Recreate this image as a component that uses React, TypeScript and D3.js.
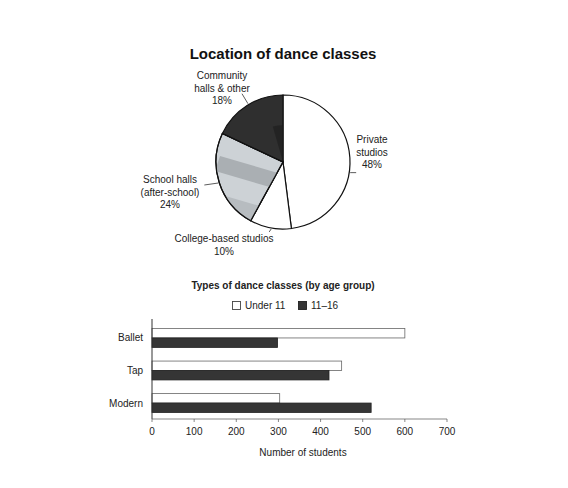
import * as d3 from "d3";
import React from "react";

// pie data
const locations = ["Private studios", "College-based studios", "School halls (after-school)", "Community halls & other"];
const locationShares = [48, 10, 24, 18];

// bar data
const danceTypes = ["Ballet", "Tap", "Modern"];
const ageGroups = ["Under 11", "11–16"];
const under11 = [600, 450, 303];
const age11to16 = [298, 420, 520];
const xTicks = [0, 100, 200, 300, 400, 500, 600, 700];

const FONT = "'Liberation Sans', Arial, sans-serif";
const INK = "#222";

const sliceFill = ["#ffffff", "#ffffff", "#cdd2d6", "#2f2f2f"];

// label layout for pie: leader start angle (deg, clockwise from 12), leader end offset, text position
const pieLabels = [
  { lines: ["Private", "studios", "48%"], angle: 99, lead: [6, 0], tx: 372, ty: 143 },
  { lines: ["College-based studios", "10%"], angle: 190, lead: [-2, 3], tx: 224, ty: 242 },
  { lines: ["School halls", "(after-school)", "24%"], angle: 252, lead: [-14, 2], tx: 170, ty: 183 },
  { lines: ["Community", "halls & other", "18%"], angle: 329, lead: [-6, -10], tx: 222, ty: 79 },
];

export default function App() {
  const cx = 283, cy = 162, r = 67;

  const pie = d3.pie<number>().sort(null).value(d => d);
  const arcs = pie(locationShares);
  const arc = d3.arc<d3.PieArcDatum<number>>().innerRadius(0).outerRadius(r);

  const x = d3.scaleLinear().domain([0, 700]).range([152, 447]);
  const y = d3.scaleBand<string>().domain(danceTypes).range([322, 419]).paddingInner(0.42).paddingOuter(0.2);
  const yInner = d3.scaleBand<string>().domain(ageGroups).range([0, y.bandwidth()]);
  const series = [under11, age11to16];
  const barFill = ["#ffffff", "#353535"];
  const barStroke = ["#666", "#222"];

  const schoolArc = arcs[2];

  return (
    <svg width={568} height={488} style={{ position: "absolute", left: 0, top: 0, background: "#fff" }} fontFamily={FONT}>
      <defs>
        <clipPath id="schoolClip">
          <path d={arc(schoolArc) || ""} transform={`translate(${cx},${cy})`} />
        </clipPath>
      </defs>

      {/* pie title */}
      <text x={283} y={59} textAnchor="middle" fontSize={15} fontWeight="bold" fill="#111">Location of dance classes</text>

      <g transform={`translate(${cx},${cy})`}>
        {arcs.map((a, i) => (
          <path key={locations[i]} d={arc(a) || ""} fill={sliceFill[i]} stroke="#111" strokeWidth={1.2} />
        ))}
      </g>
      {/* scan shading in school halls slice */}
      <g clipPath="url(#schoolClip)">
        <polygon points="220,156 285,175 280,190 215,171" fill="#aaafb3" />
        <polygon points="212,192 280,212 272,240 204,220" fill="#b7bcc0" />
      </g>
      <g transform={`translate(${cx},${cy})`}>
        <path d={arc(schoolArc) || ""} fill="none" stroke="#111" strokeWidth={1.2} />
        <path d={d3.arc<d3.PieArcDatum<number>>().innerRadius(0).outerRadius(r * 0.55)({ ...arcs[3], startAngle: arcs[3].startAngle + 0.85 }) || ""} fill="#1c1c1c" opacity={0.6} />
      </g>

      {pieLabels.map(l => {
        const t = (l.angle * Math.PI) / 180;
        const sx = cx + Math.sin(t) * (r + 1);
        const sy = cy - Math.cos(t) * (r + 1);
        return (
          <g key={l.lines[0]}>
            <line x1={sx} y1={sy} x2={sx + l.lead[0]} y2={sy + l.lead[1]} stroke="#333" strokeWidth={0.8} />
            {l.lines.map((s, j) => (
              <text key={s} x={l.tx} y={l.ty + j * 12.7} textAnchor="middle" fontSize={10} fill={INK}>{s}</text>
            ))}
          </g>
        );
      })}

      {/* bar chart */}
      <text x={283} y={289} textAnchor="middle" fontSize={10} fontWeight="bold" fill={INK}>Types of dance classes (by age group)</text>

      <g>
        <rect x={232.5} y={301.5} width={8} height={8} fill="#fff" stroke="#444" strokeWidth={0.9} />
        <text x={245} y={309} fontSize={10} fill={INK}>{ageGroups[0]}</text>
        <rect x={298.5} y={301.5} width={8} height={8} fill="#353535" stroke="#222" strokeWidth={0.9} />
        <text x={311} y={309} fontSize={10} fill={INK}>{ageGroups[1]}</text>
      </g>

      {danceTypes.map((c, i) => (
        <g key={c}>
          {series.map((s, k) => (
            <rect key={k} x={x(0)} y={(y(c) ?? 0) + (yInner(ageGroups[k]) ?? 0)} width={x(s[i]) - x(0)} height={yInner.bandwidth()}
              fill={barFill[k]} stroke={barStroke[k]} strokeWidth={0.8} />
          ))}
          <text x={143} y={(y(c) ?? 0) + y.bandwidth() / 2 + 3.5} textAnchor="end" fontSize={10} fill={INK}>{c}</text>
        </g>
      ))}

      <line x1={x(0)} y1={319} x2={x(0)} y2={419} stroke="#333" strokeWidth={1} />
      <line x1={x(0)} y1={419} x2={x(700)} y2={419} stroke="#555" strokeWidth={0.7} />
      {xTicks.map(t => (
        <g key={t}>
          <line x1={x(t)} y1={419} x2={x(t)} y2={422} stroke="#555" strokeWidth={0.7} />
          <text x={x(t)} y={435} textAnchor="middle" fontSize={10} fill={INK}>{t}</text>
        </g>
      ))}
      <text x={303} y={456} textAnchor="middle" fontSize={10} fill={INK}>Number of students</text>
    </svg>
  );
}
